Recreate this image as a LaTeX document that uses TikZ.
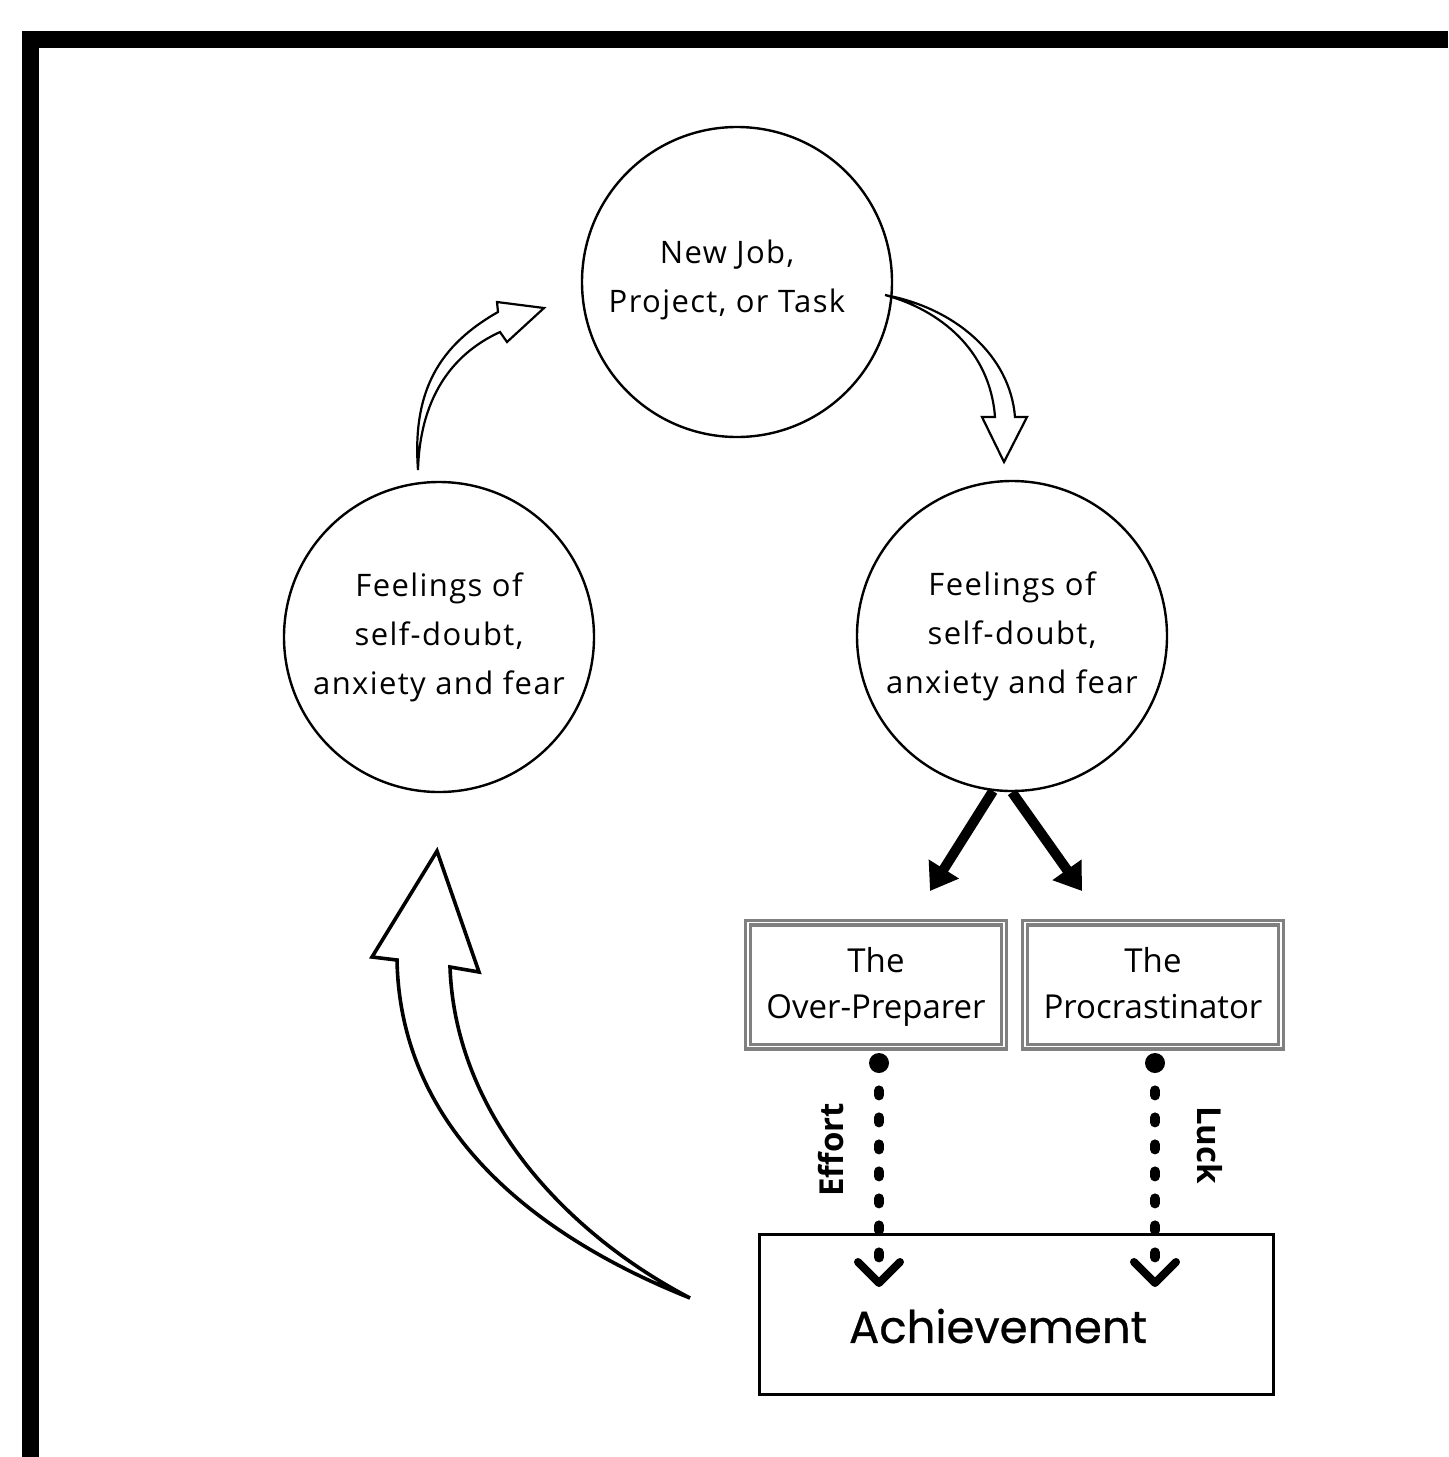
\documentclass[tikz,border=0pt]{standalone}
\usepackage{fontspec}
\setmainfont{Open Sans}
\newfontfamily\circfont[LetterSpace=4.5]{Open Sans}
\newfontfamily\achfont[FakeBold=0.6]{Poppins}
\usetikzlibrary{arrows.meta}
\begin{document}
\begin{tikzpicture}[x=0.5pt,y=-0.5pt,
  circ/.style={circle, draw, line width=1.2pt, minimum size=155pt, inner sep=0pt},
  ctext/.style={align=center, font=\circfont\fontsize{15.5}{24.5}\selectfont},
  dbox/.style={draw=black!50, double=white, line width=1.6pt, double distance=0.8pt,
    minimum width=128pt, minimum height=62pt, align=center, inner sep=0pt,
    font=\fontsize{16.5}{23}\selectfont},
  achbox/.style={draw, line width=1.5pt, minimum width=257pt, minimum height=80pt, inner sep=0pt},
  achtext/.style={font=\achfont\fontsize{22.5}{28}\selectfont, inner sep=0pt},
  lab/.style={font=\bfseries\fontsize{16.5}{20}\selectfont, inner sep=0pt},
  bigarrow/.style={line width=5pt, -{Triangle[length=13pt,width=17pt]}},
  dotnode/.style={circle, fill, minimum size=10pt, inner sep=0pt},
  dotline/.style={line width=5pt, line cap=round, dash pattern=on 2.5pt off 11pt, dash phase=5pt},
  chev/.style={line width=4pt, line cap=round, line join=round},
  hollow/.style={fill=white, line width=1.1pt, line join=miter},
  bighollow/.style={fill=white, line width=1.8pt, line join=miter}
]
\useasboundingbox (0,0) rectangle (1448,1457);
% frame
\draw[line width=8.5pt, line join=miter] (1448,39) -- (30.5,39) -- (30.5,1457);

% circles
\node[circ] (top) at (737,282) {};
\node[ctext] (toptxt) at (727,280) {New Job,\\Project, or Task};
\node[circ, ctext] (lc) at (439,637) {Feelings of\\self-doubt,\\anxiety and fear};
\node[circ, ctext] (rc) at (1012,636) {Feelings of\\self-doubt,\\anxiety and fear};

% hollow arrow left -> top
\draw[hollow] (418,470) .. controls (412,390) and (440,345) .. (498,312)
  -- (497,302) -- (544,308) -- (507,342) -- (500,332)
  .. controls (450,355) and (420,400) .. (418,470) -- cycle;
% hollow arrow top -> right
\draw[hollow] (885,295) .. controls (955,308) and (1010,355) .. (1015,417)
  -- (1027,417) -- (1004,462) -- (982,417) -- (995,417)
  .. controls (990,350) and (940,310) .. (885,295) -- cycle;

% thick arrows
\coordinate (a1) at (930,891);
\coordinate (a2) at (1082,891);
\draw[bigarrow] (rc.263) -- (a1);
\draw[bigarrow] (rc.270) -- (a2);

% boxes
\node[dbox] (op) at (876,984.5) {\rule{0pt}{17.5pt}The\\Over-Preparer\strut};
\node[dbox] (pr) at (1153,984.5) {\rule{0pt}{17.5pt}The\\Procrastinator\strut};

% achievement
\node[achbox] (ach) at (1016.5,1314.5) {};
\node[achtext] (achl) at (998,1326) {Achievement};

% dotted arrows
\node[dotnode] (d1) at (879,1063) {};
\node[dotnode] (d2) at (1155,1063) {};
\coordinate (e1) at (879,1262);
\coordinate (e2) at (1155,1262);
\coordinate (t1) at (879,1283);
\coordinate (t2) at (1155,1283);
\draw[dotline] (d1.south) -- (e1);
\draw[dotline] (d2.south) -- (e2);
\draw[chev] (t1) ++(-21,-21) -- (t1) -- ++(21,-21);
\draw[chev] (t2) ++(-21,-21) -- (t2) -- ++(21,-21);
\node[lab, rotate=90] (eff) at (831,1150) {Effort};
\node[lab, rotate=-90] (luck) at (1210,1145) {Luck};

% big hollow arrow achievement -> left circle
\draw[bighollow] (690,1298) .. controls (520,1230) and (400,1120) .. (397,960)
  -- (372,957) -- (437,851) -- (479,972) -- (450,967)
  .. controls (455,1110) and (560,1230) .. (690,1298) -- cycle;
\end{tikzpicture}
\end{document}
